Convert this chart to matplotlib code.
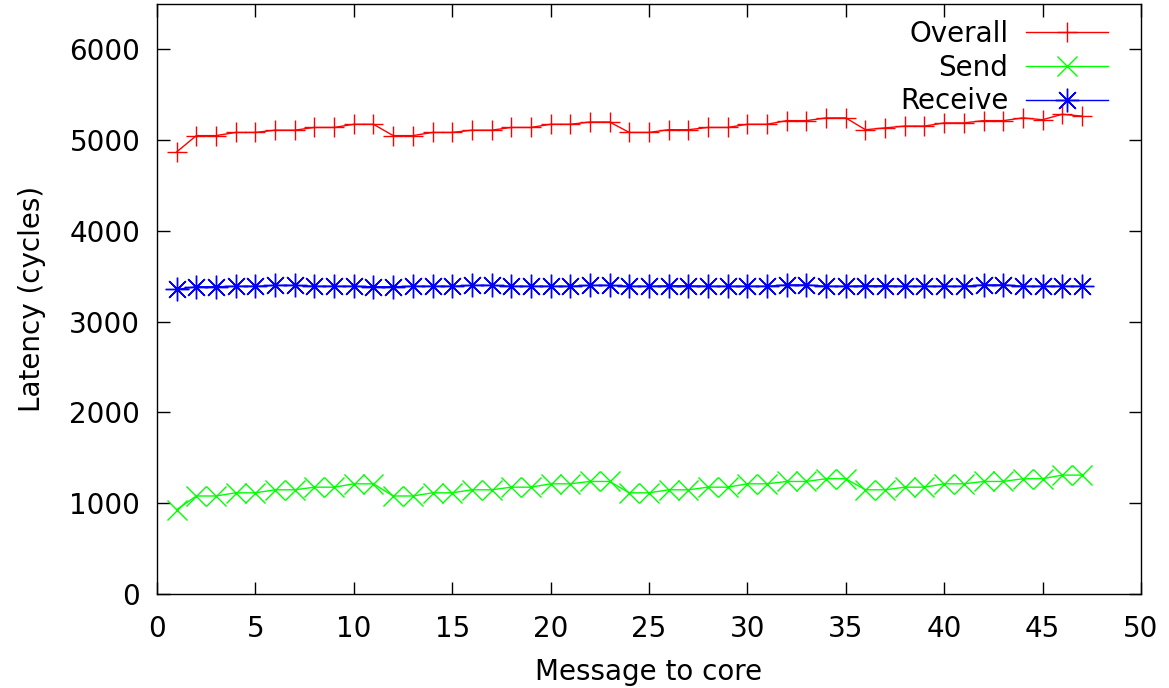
import numpy as np
import matplotlib
matplotlib.use('Agg')
from matplotlib import pyplot as plt

# данные
cores = list(range(1, 48))
overall = [4870, 5050, 5050, 5085, 5085, 5110, 5110, 5140, 5140, 5175, 5175,
           5050, 5050, 5085, 5085, 5110, 5110, 5140, 5140, 5175, 5175, 5200, 5200,
           5085, 5085, 5115, 5115, 5140, 5140, 5175, 5175, 5215, 5215, 5245, 5245,
           5115, 5135, 5155, 5155, 5190, 5190, 5215, 5215, 5245, 5225, 5285, 5265]
send = [930, 1080, 1080, 1115, 1115, 1148, 1148, 1177, 1177, 1214, 1214,
        1080, 1080, 1115, 1115, 1148, 1148, 1177, 1177, 1214, 1214, 1240, 1240,
        1115, 1115, 1148, 1148, 1177, 1177, 1214, 1214, 1240, 1240, 1270, 1270,
        1148, 1148, 1177, 1177, 1214, 1214, 1240, 1240, 1270, 1270, 1310, 1310]
receive = [3355, 3385, 3385, 3390, 3390, 3400, 3400, 3390, 3390, 3390, 3385,
           3385, 3390, 3390, 3390, 3400, 3400, 3390, 3390, 3390, 3390, 3400, 3400,
           3390, 3390, 3395, 3395, 3390, 3390, 3390, 3390, 3405, 3405, 3390, 3390,
           3395, 3395, 3390, 3390, 3390, 3390, 3405, 3405, 3390, 3390, 3390, 3390]

plt.rcParams['font.family'] = 'DejaVu Sans'
plt.rcParams['font.size'] = 20

fig = plt.figure(figsize=(11.69, 6.88), dpi=100)
ax = fig.add_axes([0.1343, 0.1366, 0.9760 - 0.1343, 0.9942 - 0.1366])

ax.plot(cores, overall, color='#ff0000', lw=1, marker='+', ms=14.5, mew=1, label='Overall')
ax.plot(cores, send, color='#00ff00', lw=1, marker='x', ms=14.5, mew=1, label='Send')
ax.plot(cores, receive, color='#0000ff', lw=1, marker=(8, 2, 0), ms=17, mew=1, label='Receive')

ax.set_xlim(0, 50)
ax.set_ylim(0, 6500)
ax.set_xticks(np.arange(0, 51, 5))
ax.set_yticks(np.arange(0, 6001, 1000))
ax.tick_params(direction='in', length=9, width=1, top=True, right=True)
ax.tick_params(axis='x', pad=15)
ax.tick_params(axis='y', pad=12)
for s in ax.spines.values():
    s.set_linewidth(1)

ax.set_xlabel('Message to core', labelpad=11)
ax.set_ylabel('Latency (cycles)', labelpad=17)

# легенда: текст справа выровнен, образец линии правее текста
ax.legend(loc='upper right', frameon=False, markerfirst=False,
          handlelength=2.95, labelspacing=0.2, borderaxespad=0, borderpad=0.4,
          handletextpad=0.65, bbox_to_anchor=(0.978, 0.9915))

fig.savefig('out.png', dpi=100)
